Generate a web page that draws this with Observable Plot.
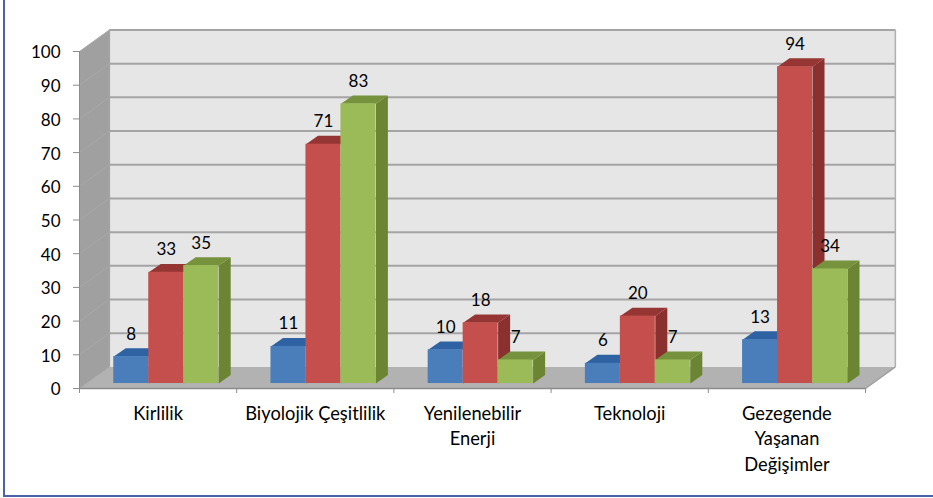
<!DOCTYPE html>
<html><head><meta charset="utf-8">
<script src="https://cdn.jsdelivr.net/npm/d3@7"></script>
<script src="https://cdn.jsdelivr.net/npm/@observablehq/plot@0.6"></script>
<style>
html,body{margin:0;padding:0;background:#fff}
#frame{position:absolute;left:3px;top:0;width:930px;height:495px;border-left:2px solid #4a62a8;border-bottom:2px solid #4a62a8;box-sizing:content-box}
#chart{position:absolute;left:0;top:0}
svg{display:block;background:transparent!important}
</style></head><body>
<div id="frame"></div><div id="chart"></div>
<script>
const categories = ["Kirlilik","Biyolojik Çeşitlilik","Yenilenebilir\nEnerji","Teknoloji","Gezegende\nYaşanan\nDeğişimler"];
const seriesBlue  = [8,11,10,6,13];
const seriesRed   = [33,71,18,20,94];
const seriesGreen = [35,83,7,7,34];
const yTicks = [0,10,20,30,40,50,60,70,80,90,100];
const xTicks = [0,1,2,3,4,5];

// depth of the 3-D box and of each bar, in data units
const wallX = 0.19, wallY = 6.4;
const barX = 0.0763, barY = 2.5;
const barW = 0.2225, barStart = 0.218, baseY = 1.48;

const palette = [
  {front:"#4a7ebb", top:"#2f62a3", side:"#2c5a94"},
  {front:"#c44f4c", top:"#963634", side:"#8a302e"},
  {front:"#9bbb59", top:"#76923c", side:"#6b8533"}
];
const allSeries = [seriesBlue, seriesRed, seriesGreen];

const faces = [];
let fid = 0;
function face(c, pts){ const id = fid++; for (const [x,y] of pts) faces.push({id,c,x,y}); }

// walls and floor
face("#a0a0a0", [[0,0],[wallX,wallY],[wallX,100+wallY],[0,100]]);
face("#e6e6e6", [[wallX,wallY],[5+wallX,wallY],[5+wallX,100+wallY],[wallX,100+wallY]]);
face("#b2b2b2", [[0,0],[5,0],[5+wallX,wallY],[wallX,wallY]]);

const bars = [], labels = [];
categories.forEach((_, i) => {
  allSeries.forEach((s, k) => {
    const v = s[i], x1 = i + barStart + k*barW, x2 = x1 + barW, y2 = v + baseY;
    const p = palette[k];
    face(p.side, [[x2,baseY],[x2+barX,baseY+barY],[x2+barX,y2+barY],[x2,y2]]);
    face(p.top,  [[x1,y2],[x2,y2],[x2+barX,y2+barY],[x1+barX,y2+barY]]);
    bars.push({x1,x2,y1:baseY,y2,c:p.front});
    labels.push({x:(x1+x2)/2,y:y2,t:String(v)});
  });
});

const wallFaces = faces.filter(d => d.id < 3);
const barFaces = faces.filter(d => d.id >= 3);
const grid = yTicks.map(v => ({v}));
const faceMark = (data) => Plot.line(data,{x:"x",y:"y",z:"id",fill:{value:"c",scale:null},stroke:null});

// bars drawn in order so each later bar hides the previous side face
const barMarks = [];
bars.forEach((b, n) => {
  barMarks.push(faceMark(barFaces.filter(d => d.id === 3 + 2*n || d.id === 4 + 2*n)));
  barMarks.push(Plot.rect([b],{x1:"x1",x2:"x2",y1:"y1",y2:"y2",fill:{value:"c",scale:null}}));
});

const font = "Lato, 'Noto Sans', sans-serif";
const plot = Plot.plot({
  width:933, height:498,
  marginLeft:79, marginRight:68, marginTop:51, marginBottom:110,
  style:{fontFamily:font,fontSize:"17px",color:"#000",background:"transparent"},
  x:{domain:[0,5],axis:null},
  y:{domain:[0,100],axis:null},
  marks:[
    faceMark(wallFaces),
    Plot.link(grid,{x1:()=>0,x2:()=>wallX,y1:"v",y2:d=>d.v+wallY,stroke:"#a8a8a8",strokeWidth:1}),
    Plot.link(grid.filter(d=>d.v>0),{x1:()=>wallX,x2:()=>5+wallX,y1:d=>d.v+wallY,y2:d=>d.v+wallY,stroke:"#a4a4a4",strokeWidth:2}),
    Plot.link([{}],{x1:()=>wallX,x2:()=>wallX,y1:()=>wallY,y2:()=>100+wallY,stroke:"#a4a4a4",strokeWidth:1.5}),
    Plot.link([{}],{x1:()=>5+wallX,x2:()=>5+wallX,y1:()=>wallY,y2:()=>100+wallY,stroke:"#b0b0b0",strokeWidth:1.5}),
    Plot.link([{}],{x1:()=>5,x2:()=>5+wallX,y1:()=>0,y2:()=>wallY,stroke:"#a0a0a0",strokeWidth:1.5}),
    ...barMarks,
    Plot.ruleY([0],{x1:()=>0,x2:()=>5,stroke:"#8c8c8c",strokeWidth:1.5}),
    Plot.ruleX([0],{y1:()=>0,y2:()=>100,stroke:"#8c8c8c",strokeWidth:1}),
    Plot.axisY({ticks:yTicks,tickSize:6,text:null,stroke:"#8c8c8c",anchor:"left",label:null}),
    Plot.axisY({ticks:yTicks,tickSize:0,tickPadding:19,fill:"#000",anchor:"left",label:null,fontSize:17,dy:1.5,tickFormat:d=>String(d)}),
    Plot.axisX({ticks:xTicks,tickSize:5,tickFormat:()=>"",stroke:"#8c8c8c",anchor:"bottom",label:null}),
    Plot.text(categories,{x:(d,i)=>i+0.5,y:()=>0,text:d=>d,dy:13,lineAnchor:"top",lineHeight:1.4,fill:"#000",fontSize:18.3,textAnchor:"middle"}),
    Plot.text(labels,{x:"x",y:"y",text:"t",dy:-22.5,fill:"#000",fontSize:17,lineAnchor:"middle"})
  ]
});
document.getElementById("chart").appendChild(plot);
</script>
</body></html>
